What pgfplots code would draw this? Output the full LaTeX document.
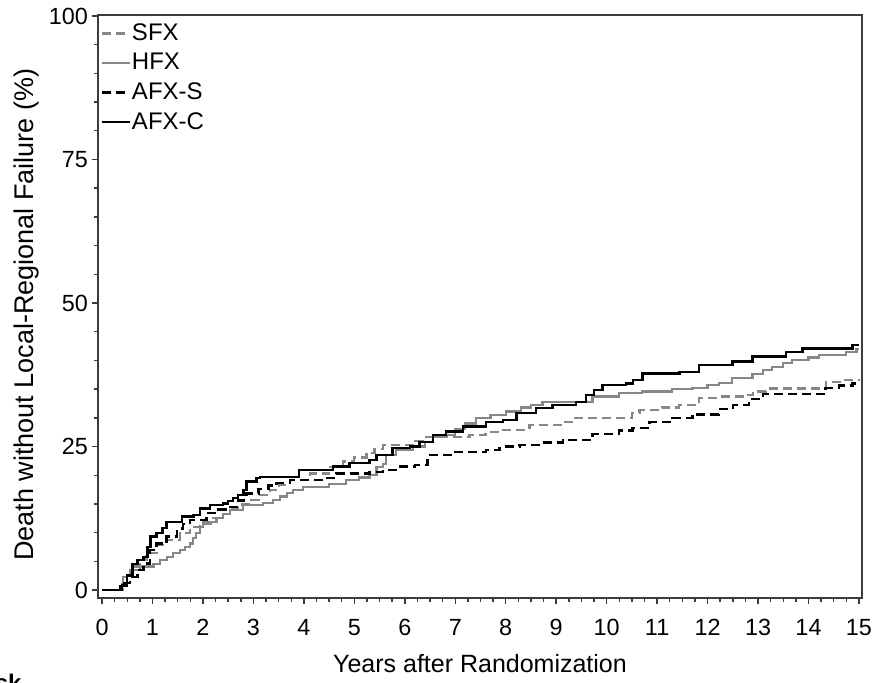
\documentclass[border=0pt]{standalone}
\usepackage{fontspec}
\setmainfont{Liberation Sans}
\usepackage{pgfplots}
\pgfplotsset{compat=1.18}
\usetikzlibrary{calc}

\definecolor{lgray}{RGB}{135,135,135}
\definecolor{axgray}{RGB}{60,60,60}

\begin{document}
\begin{tikzpicture}
\begin{axis}[
  name=ax,
  scale only axis,
  width=382pt, height=291.5pt,
  xmin=-0.08, xmax=15.06,
  ymin=-1.39, ymax=100.17,
  xtick={0,1,...,15},
  ytick={0,25,50,75,100},
  minor x tick num=3,
  minor y tick num=4,
  tick align=outside,
  xtick pos=bottom, ytick pos=left,
  major tick length=3pt,
  minor tick length=2pt,
  axis line style={axgray, line width=0.8pt},
  every tick/.style={axgray, line width=0.7pt},
  tick label style={font=\fontsize{11.7}{14}\selectfont},
  /pgf/number format/assume math mode=true,
  xticklabel style={text height=8.4pt, text depth=0pt, yshift=-3.7pt},
  yticklabel style={xshift=1.5pt},
  xlabel={Years after Randomization},
  ylabel={Death without Local-Regional Failure (\%)},
  xlabel style={font=\fontsize{12.5}{15}\selectfont,
    at={(axis description cs:0.5,-0.113)}, anchor=center},
  ylabel style={font=\fontsize{13.5}{16}\selectfont,
    at={(axis description cs:-0.094,0.486)}, anchor=center},
  legend style={at={(rel axis cs:0,1)}, anchor=north west, draw=none, fill=none,
    font=\fontsize{12}{14}\selectfont, row sep=3.75pt, xshift=-2pt, yshift=-1.5pt,
    nodes={inner sep=0.6pt}},
  legend cell align=left,
  legend image code/.code={\draw[#1] (0pt,0pt) -- (14pt,0pt);},
]
\addplot[const plot, lgray, line width=1.1pt, dash pattern=on 4.5pt off 2.5pt] coordinates {
(0,0)(0.3,0)(0.42,2.3)(0.62,4.1)(0.75,5.2)(0.88,6.4)(1.08,7.8)(1.28,8.7)(1.54,9.9)
(1.74,11)(1.94,11.6)(2.2,12.5)(2.35,13.3)(2.53,14.2)(2.7,14.9)(2.93,15.7)(3.1,16.5)
(3.33,17.4)(3.5,18.3)(3.72,19.2)(4.12,20.3)(4.5,21.4)(4.78,22.4)(5.0,23.1)(5.24,23.8)
(5.4,24.5)(5.57,25.3)(6.2,26)(6.43,26.7)(7.28,27)(7.6,27.5)(7.94,27.9)(8.47,28.7)
(9.13,29.3)(9.33,29.9)(10.51,30.8)(10.65,31.4)(11.1,31.8)(11.44,32.2)(11.83,33.4)
(12.2,33.7)(12.76,34)(12.9,34.6)(13.15,35.1)(14.34,36.3)(14.7,36.6)(15,36.8)};
\addlegendentry{SFX}
\addplot[const plot, lgray, line width=1.1pt] coordinates {
(0,0)(0.3,0)(0.4,1)(0.5,2.5)(0.55,3.5)(0.75,4.1)(1.02,4.6)(1.15,5.2)(1.28,5.8)(1.4,6.4)
(1.54,7)(1.64,7.5)(1.74,8.1)(1.8,9)(1.87,9.9)(1.94,11)(2.0,11.9)(2.27,12.5)(2.4,13.2)
(2.53,13.9)(2.8,14.8)(3.19,15.1)(3.39,15.7)(3.52,16.3)(3.66,16.9)(3.79,17.4)(3.98,18)
(4.5,18.4)(4.84,19.2)(5.1,19.6)(5.3,20)(5.44,21.5)(5.57,22)(5.63,23.5)(5.83,24.4)
(6.16,25)(6.4,25.8)(6.56,26.7)(6.82,27)(7.0,28)(7.2,29)(7.41,29.9)(7.7,30.5)(8.01,31.1)
(8.3,31.8)(8.5,32.3)(8.73,32.8)(9.72,33.7)(10.25,34.3)(10.7,34.6)(11.3,35)(11.7,35.2)
(12.0,35.7)(12.23,36)(12.49,36.9)(12.89,37.7)(13.1,38.3)(13.28,38.9)(13.5,39.5)
(13.68,40.1)(14.0,40.5)(14.21,40.9)(14.74,41.5)(14.95,42)(15,42)};
\addlegendentry{HFX}
\addplot[const plot, black, line width=1.2pt, dash pattern=on 4.5pt off 2.5pt] coordinates {
(0,0)(0.3,0)(0.36,1.2)(0.55,2.3)(0.7,3.5)(0.82,4.6)(0.95,7)(1.08,8.1)(1.28,9.3)(1.48,10.7)
(1.6,11.5)(1.74,12.2)(2.07,13.4)(2.3,14)(2.53,14.5)(2.7,15.6)(2.86,16.8)(3.1,17.6)
(3.3,18.2)(3.46,18.6)(3.72,19.2)(4.38,19.5)(4.64,20.3)(5.3,20.6)(5.57,20.9)(5.9,21.5)
(6.2,21.8)(6.45,23.5)(7.0,24)(7.61,24.4)(7.88,25)(8.27,25.3)(8.7,25.7)(9.13,26.1)
(9.72,27.2)(10.25,27.8)(10.51,28.2)(10.85,29.3)(11.3,30)(11.7,30.6)(12.23,31.5)
(12.5,32.2)(12.82,33.3)(13.1,34.1)(14.34,35.2)(14.6,35.6)(14.87,36)(15,36)};
\addlegendentry{AFX-S}
\addplot[const plot, black, line width=1.2pt] coordinates {
(0,0)(0.3,0)(0.4,0.8)(0.5,2.5)(0.6,4.5)(0.7,5.2)(0.82,5.8)(0.9,7.5)(0.96,9.3)(1.08,9.9)
(1.2,10.8)(1.28,11.9)(1.58,12.8)(1.81,13.1)(1.94,14.2)(2.14,14.8)(2.4,15.1)(2.5,15.5)
(2.6,16)(2.7,16.6)(2.8,17.4)(2.86,18.9)(3.06,19.5)(3.13,19.7)(3.9,20.9)(4.58,21.5)
(4.9,22.1)(5.3,22.6)(5.44,23.5)(5.76,24.7)(6.1,25)(6.29,25.8)(6.56,27)(6.82,27.6)
(7.15,28.5)(7.61,29.3)(7.94,29.6)(8.21,30.8)(8.6,31.7)(8.93,32.2)(9.39,32.8)(9.59,34)
(9.75,34.8)(9.92,35.7)(10.38,36)(10.52,36.6)(10.71,37.7)(11.44,38)(11.83,39.2)
(12.49,39.8)(12.89,40.7)(13.55,41.5)(13.88,42.1)(14.87,42.7)(15,42.7)};
\addlegendentry{AFX-C}
\end{axis}
\node[anchor=north east, inner sep=0pt, font=\fontsize{12}{14}\selectfont\bfseries]
  at ($(ax.south west)+(-38pt,-38pt)$) {Risk};
\pgfresetboundingbox
\useasboundingbox ($(ax.south west)+(-49pt,-42pt)$) rectangle ($(ax.north east)+(6.5pt,7.5pt)$);
\end{tikzpicture}
\end{document}
